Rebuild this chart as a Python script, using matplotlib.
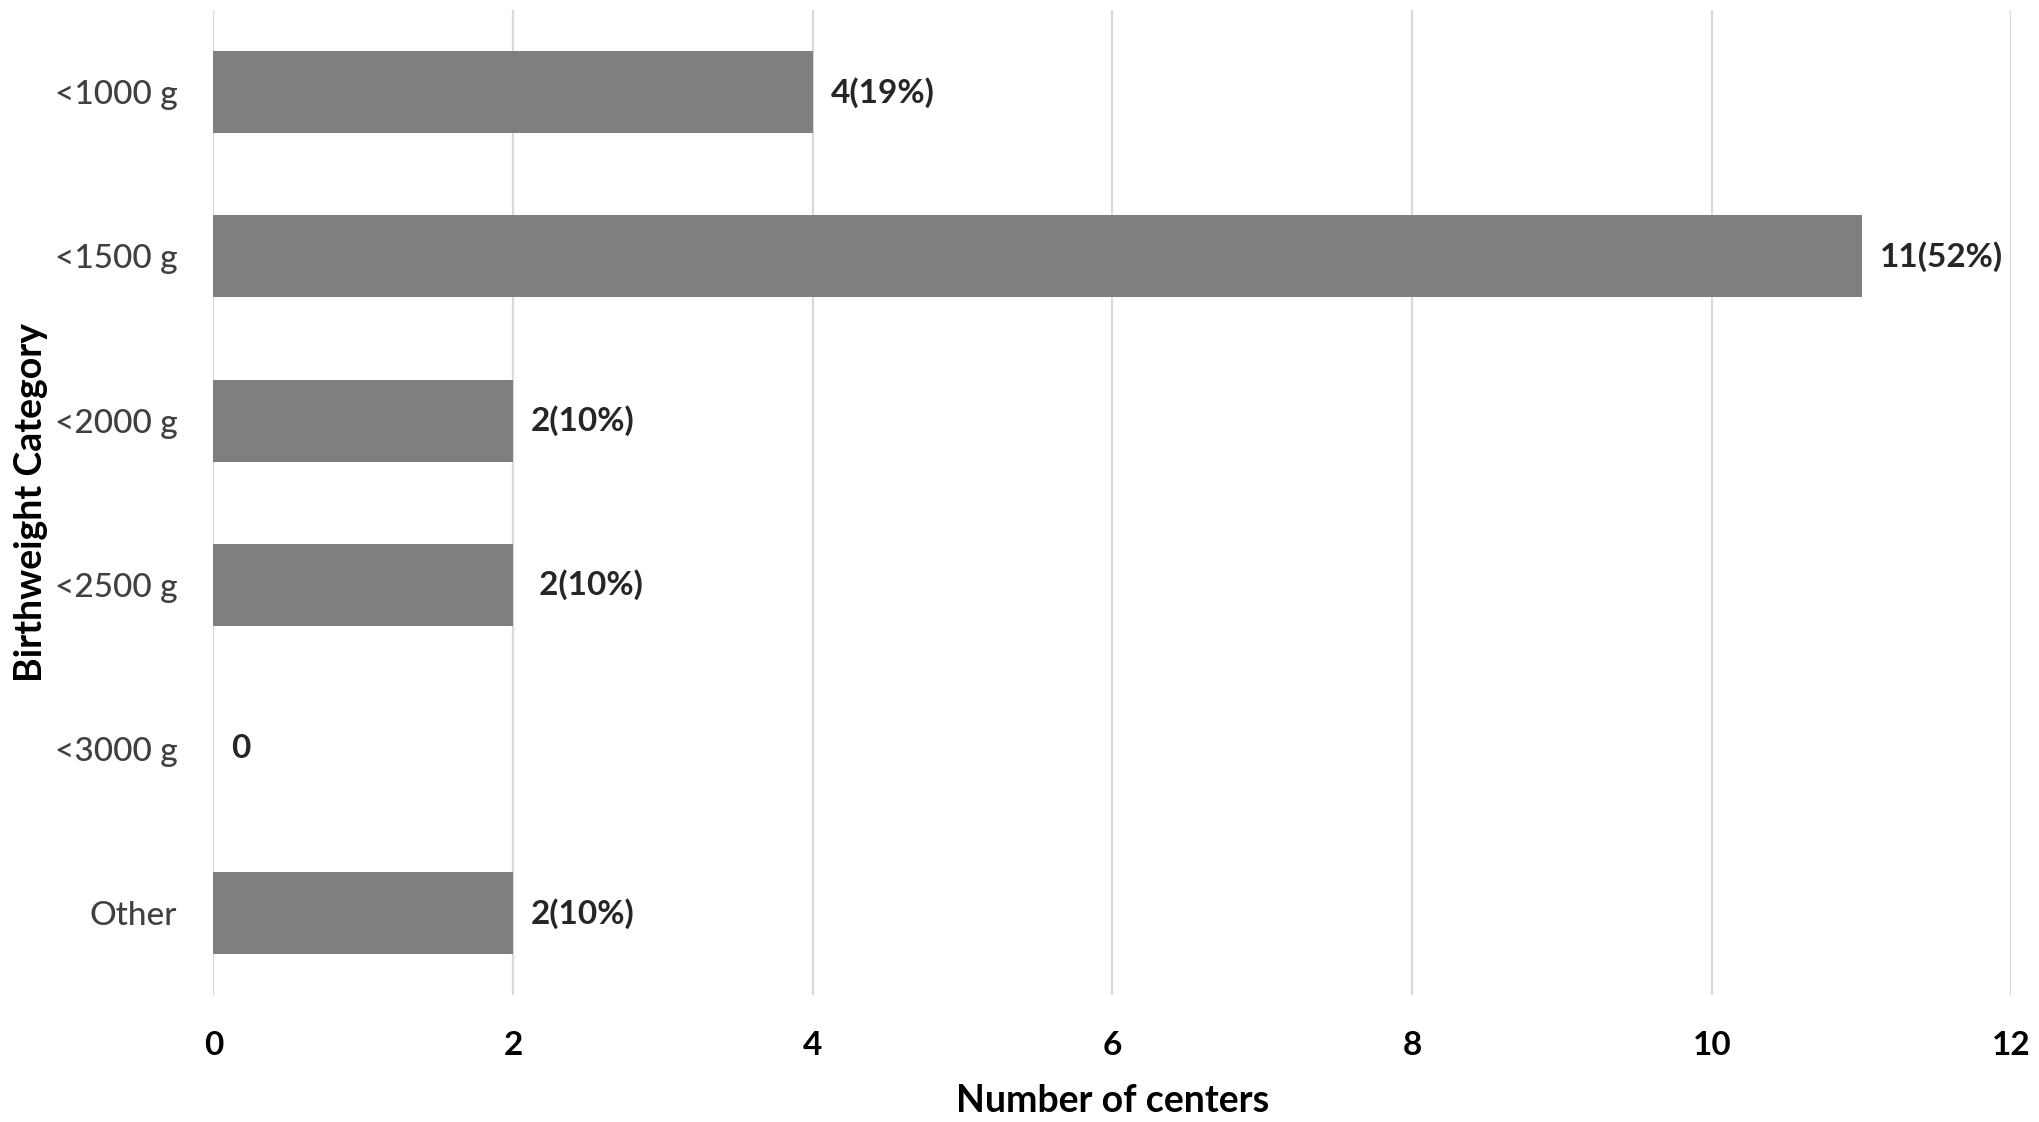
import numpy as np
import matplotlib
matplotlib.use('Agg')
import matplotlib.pyplot as plt

categories = ['<1000 g', '<1500 g', '<2000 g', '<2500 g', '<3000 g', 'Other']
centers = [4, 11, 2, 2, 0, 2]
bar_labels = ['4(19%)', '11(52%)', '2(10%)', ' 2(10%)', '0', '2(10%)']
x_ticks = [0, 2, 4, 6, 8, 10, 12]

plt.rcParams['font.family'] = ['Lato', 'DejaVu Sans']

fig = plt.figure(figsize=(20.4, 11.22), dpi=100)
ax = fig.add_axes([0.1046, 0.113, 0.8814, 0.878])

y = np.arange(len(categories))
ax.barh(y, centers, height=0.5, color='#7f7f7f', zorder=3)

# value labels at the bar ends
for yi, v, lab in zip(y, centers, bar_labels):
    ax.annotate(lab, xy=(v, yi), xytext=(18, 0), textcoords='offset pixels',
                ha='left', va='center', fontsize=24, fontweight='bold',
                color='#262626')

ax.set_xlim(0, 12)
ax.set_ylim(len(categories) - 0.5, -0.5)
ax.set_xticks(x_ticks)
ax.set_xticklabels([str(t) for t in x_ticks], fontsize=24, fontweight='bold',
                   color='black')
ax.set_yticks(y)
ax.set_yticklabels(categories, fontsize=24, color='#404040', fontweight='medium')
ax.tick_params(axis='both', length=0)
ax.tick_params(axis='x', pad=26)
ax.tick_params(axis='y', pad=26)

ax.grid(axis='x', color='#d9d9d9', linewidth=1.6, zorder=0)
for s in ax.spines.values():
    s.set_visible(False)

ax.set_xlabel('Number of centers', fontsize=27, fontweight='bold',
              color='black', labelpad=17)
ax.set_ylabel('Birthweight Category', fontsize=27, fontweight='bold',
              color='black')
ax.yaxis.set_label_coords(-0.092, 0.5)

fig.savefig('out.png', dpi=100)
